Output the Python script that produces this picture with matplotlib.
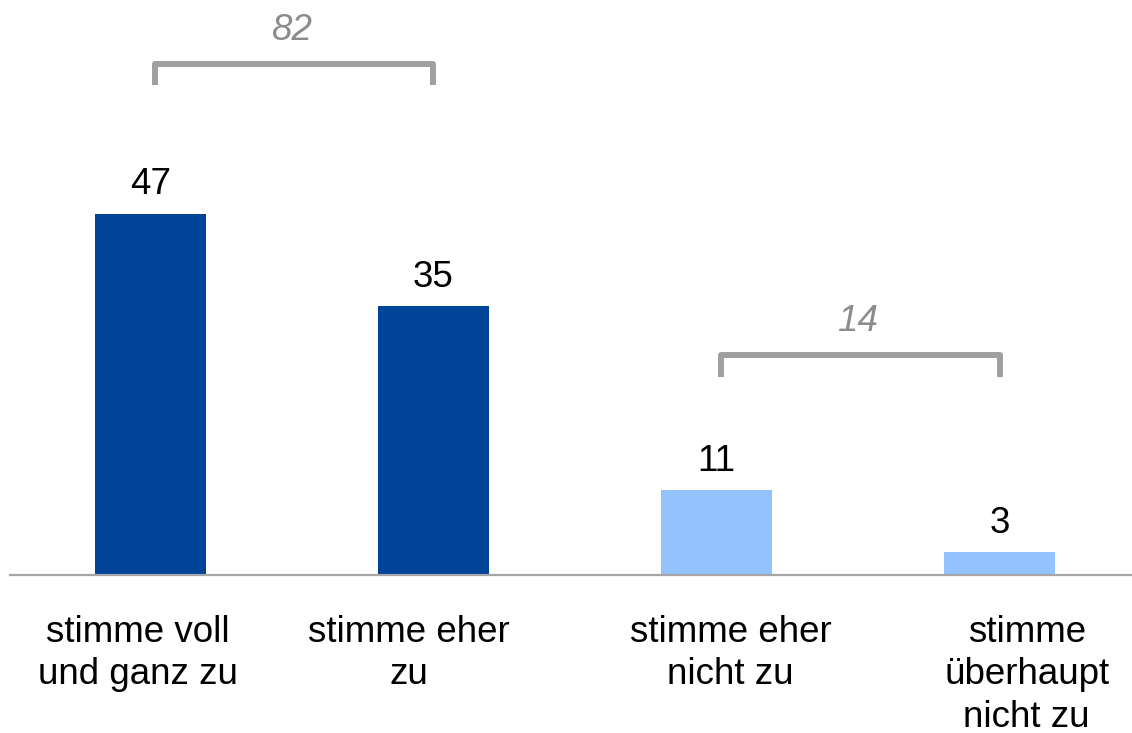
import matplotlib.pyplot as plt

plt.rcParams['font.family'] = ['Liberation Sans', 'DejaVu Sans']

# Data
categories = ["stimme voll\nund ganz zu", "stimme eher\nzu", "stimme eher\nnicht zu", "stimme\nüberhaupt\nnicht zu"]
values = [47, 35, 11, 3]
bar_colors = ["#00449A", "#00449A", "#94C2FF", "#94C2FF"]
group_labels = ["82", "14"]
group_spans = [(0, 1), (2, 3)]

W, H = 1132, 733
fig = plt.figure(figsize=(W / 100, H / 100), dpi=100)
ax = fig.add_axes([10 / W, (H - 575) / H, (W - 10) / W, 575 / H])

x = list(range(len(values)))
ax.bar(x, values, width=0.392, color=bar_colors, zorder=2)

ax.set_xlim(-0.496, 3.468)
ax.set_ylim(0, 74.8)

# Value labels
for xi, v in zip(x, values):
    ax.annotate(str(v), (xi, v), xytext=(0, 8.2), textcoords="offset points",
                ha="center", va="bottom", fontsize=26.5, color="black")

# Category labels (text boxes sit slightly off the bar centres, in points)
label_shift = [-9, -18, 10, 19.5]
for xi, lab, dx in zip(x, categories, label_shift):
    ax.annotate(lab, (xi, 0), xytext=(dx, -28.5), textcoords="offset points",
                ha="center", va="top", fontsize=26.5, color="black", linespacing=1.28)

# Brackets
bracket_y = [66.5, 28.6]
leg = 2.8
text_y = [70.8, 33.0]
for (a, b), lab, by, ty in zip(group_spans, group_labels, bracket_y, text_y):
    ax.plot([a + 0.016, a + 0.016, b, b], [by - leg, by, by, by - leg],
            color="#A0A0A0", lw=4.3, solid_joinstyle="round", solid_capstyle="butt")
    ax.text((a + b) / 2, ty, lab, ha="center", va="center", fontsize=26.5,
            style="italic", color="#8C8C8C")

# Axis
for s in ["top", "right", "left"]:
    ax.spines[s].set_visible(False)
ax.spines["bottom"].set_color("#A6A6A6")
ax.spines["bottom"].set_linewidth(1.6)
ax.set_xticks([])
ax.set_yticks([])
ax.patch.set_visible(False)

fig.savefig("out.png", dpi=100)
